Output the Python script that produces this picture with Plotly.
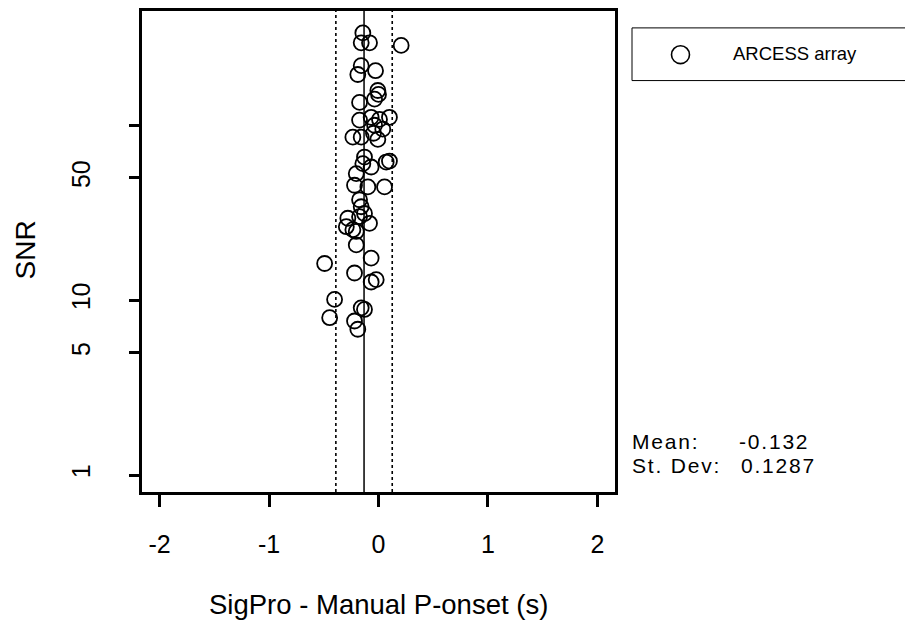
import plotly.graph_objects as go

# ---- data ----
diff_s = [-0.143, -0.158, -0.082, 0.207, -0.158, -0.189, -0.027, -0.006, -0.173, -0.036,
          0.000, -0.173, -0.067, 0.009, 0.100, -0.036, 0.039, -0.234, -0.158, -0.006,
          -0.046, -0.128, -0.143, -0.067, 0.070, 0.100, -0.203, -0.219, -0.097, 0.055,
          -0.173, -0.158, -0.280, -0.173, -0.128, -0.082, -0.294, -0.234, -0.203, -0.203,
          -0.492, -0.067, -0.219, -0.021, -0.067, -0.401, -0.158, -0.128, -0.446, -0.219,
          -0.189]
snr = [337, 296, 296, 286, 219, 195, 205, 158, 135, 141,
       150, 107, 111, 108, 111, 100, 95, 85.5, 85.5, 83,
       90, 65.8, 60.3, 57.7, 61.6, 62.4, 52.9, 45.4, 44.4, 44.4,
       37.5, 34.2, 29.4, 30.0, 31.3, 27.5, 26.3, 25.3, 24.7, 20.7,
       16.2, 17.4, 14.3, 13.1, 12.7, 10.1, 9.04, 8.85, 7.94, 7.6,
       6.82]
series_name = "ARCESS array"
mean_val = -0.132
sd_val = 0.1287
stat_labels = ["Mean:", "St. Dev:"]
x_ticks = [-2, -1, 0, 1, 2]
y_ticks = [1, 5, 10, 50, 100]
y_ticktext = ["1", "5", "10", "50", ""]

FONT = "Liberation Sans, Arial, Helvetica, sans-serif"
W, H = 905, 634
L, R, T, B = 142, 615, 8, 492


def px(x):
    return (x - L) / (R - L)


def py(y):
    return 1 - (y - T) / (B - T)


def wide(s):
    return f"<span style='letter-spacing:1.8px'>{s}</span>"


fig = go.Figure()
fig.add_trace(go.Scatter(
    x=diff_s, y=snr, mode="markers", name=series_name, showlegend=False,
    marker=dict(symbol="circle-open", size=15, color="black", line=dict(width=1.8, color="black")),
))

shapes = []
# mean and +/- 2 sd lines
shapes.append(dict(type="line", xref="x", yref="paper", x0=mean_val, x1=mean_val, y0=0, y1=1,
                   line=dict(color="black", width=1.5)))
for k in (-2, 2):
    xv = mean_val + k * sd_val
    shapes.append(dict(type="line", xref="x", yref="paper", x0=xv, x1=xv, y0=0, y1=1,
                       line=dict(color="black", width=1.6, dash="dot")))
# legend box
shapes.append(dict(type="rect", xref="paper", yref="paper", x0=px(632), x1=px(915),
                   y0=py(78), y1=py(25), line=dict(color="black", width=1)))
shapes.append(dict(type="circle", xref="paper", yref="paper", x0=px(671.5), x1=px(689.5),
                   y0=py(61), y1=py(43), line=dict(color="black", width=1.6)))

stat_font = dict(family=FONT, size=21, color="black")
stat_rows = [(stat_labels[0], f"{mean_val}", 441, 737),
             (stat_labels[1], f"{sd_val}", 465, 739)]
annotations = [
    dict(text=series_name, xref="paper", yref="paper", x=px(731), y=py(51), xanchor="left",
         yanchor="middle", showarrow=False, font=dict(family=FONT, size=18.5, color="black")),
    dict(text="SNR", xref="paper", yref="paper", x=px(26), y=py(249), xanchor="center",
         yanchor="middle", textangle=-90, showarrow=False,
         font=dict(family=FONT, size=28, color="black")),
    dict(text="SigPro - Manual P-onset (s)", xref="paper", yref="paper", x=px(378), y=py(605),
         xanchor="center", yanchor="middle", showarrow=False,
         font=dict(family=FONT, size=27.5, color="black")),
]
for lab, val, yc, xv in stat_rows:
    annotations.append(dict(text=wide(lab), xref="paper", yref="paper", x=px(630), y=py(yc),
                            xanchor="left", yanchor="middle", showarrow=False, font=stat_font))
    annotations.append(dict(text=wide(val), xref="paper", yref="paper", x=px(xv), y=py(yc),
                            xanchor="left", yanchor="middle", showarrow=False, font=stat_font))

fig.update_layout(
    width=W, height=H,
    margin=dict(l=L, r=W - R, t=T, b=H - B, pad=0),
    paper_bgcolor="white", plot_bgcolor="white",
    showlegend=False,
    shapes=shapes, annotations=annotations,
    font=dict(family=FONT, color="black"),
)
fig.update_xaxes(
    range=[-2.16, 2.16], tickvals=x_ticks, ticktext=[str(v) for v in x_ticks],
    showgrid=False, zeroline=False, showline=True, linecolor="black", linewidth=2.5, mirror=True,
    ticks="outside", ticklen=12, tickwidth=2.5, tickcolor="black",
    tickfont=dict(family=FONT, size=25, color="black"), ticklabelstandoff=16,
)
fig.update_yaxes(
    type="log", range=[-0.0966, 2.653], tickvals=y_ticks, ticktext=y_ticktext,
    showgrid=False, zeroline=False, showline=True, linecolor="black", linewidth=2.5, mirror=True,
    ticks="outside", ticklen=10, tickwidth=2.5, tickcolor="black", tickangle=-90,
    tickfont=dict(family=FONT, size=25, color="black"), ticklabelstandoff=29,
)

fig.write_html("out.html")
